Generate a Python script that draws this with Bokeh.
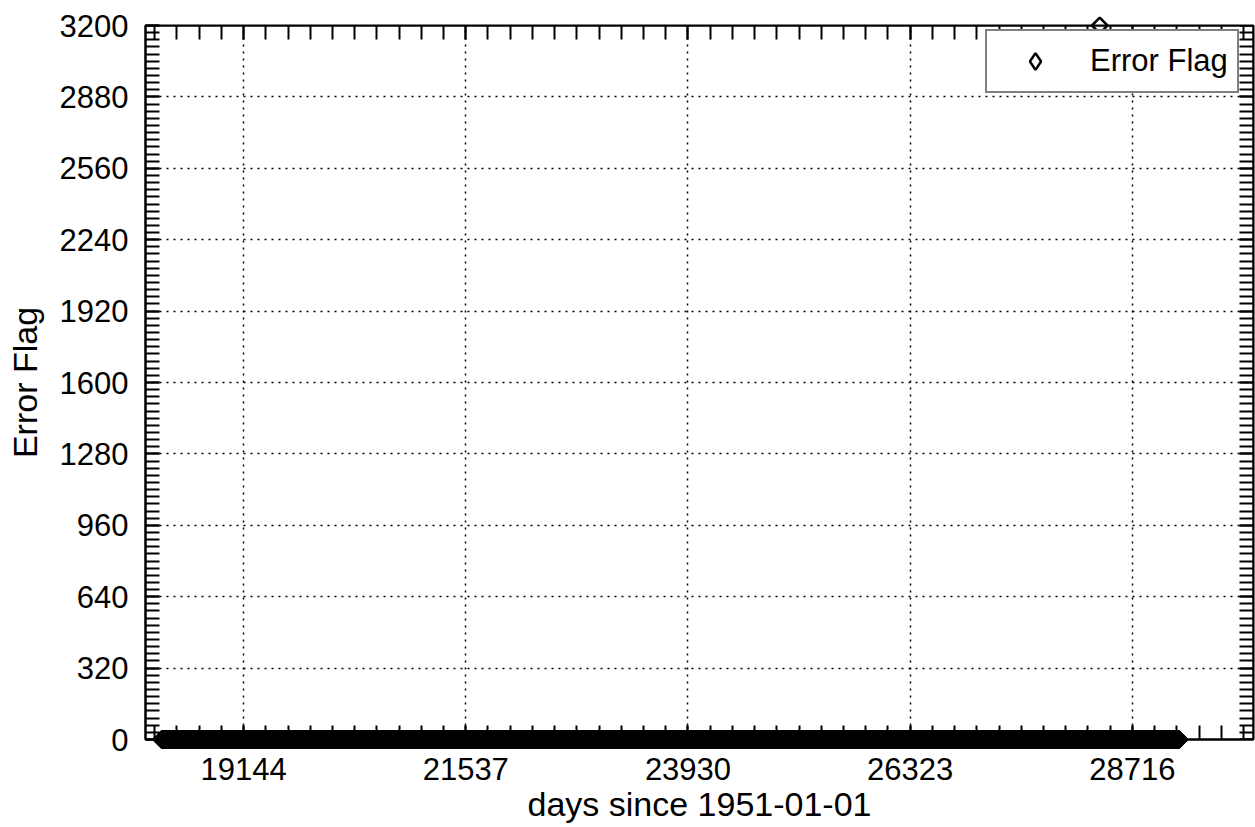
from bokeh.plotting import figure
from bokeh.models import (Range1d, FixedTicker, LinearAxis, Legend, LegendItem,
                          ColumnDataSource)
from bokeh.embed import file_html
from bokeh.resources import INLINE
import math

# ---- data ----
first_day = 18262          # first daily record, days since 1951-01-01
last_day = 29219           # last daily record
flagged_day = 28364        # the single flagged record
flagged_value = 3200
days = list(range(first_day, last_day + 1))
flags = [0] * len(days)
flags[days.index(flagged_day)] = flagged_value

x_major_ticks = [19144, 21537, 23930, 26323, 28716]
y_major_ticks = [0, 320, 640, 960, 1280, 1600, 1920, 2240, 2560, 2880, 3200]
x_limits = (18088, 30020)
y_limits = (0, 3200)
series_name = "Error Flag"
x_label = "days since 1951-01-01"
y_label = "Error Flag"

FONT = "Liberation Sans"

xstep = (x_major_ticks[1] - x_major_ticks[0]) / 10.0
x_minor = [x_major_ticks[0] + k * xstep for k in range(-10, 60)]
x_minor = [v for v in x_minor if x_limits[0] <= v <= x_limits[1]]
ystep = (y_major_ticks[1] - y_major_ticks[0]) / 10.0
y_minor = [y_limits[0] + k * ystep for k in range(0, 101)]

xticker = FixedTicker(ticks=x_major_ticks, minor_ticks=x_minor)
yticker = FixedTicker(ticks=y_major_ticks, minor_ticks=y_minor)

p = figure(width=1255, height=827, output_backend="svg", toolbar_location=None,
           title=None,
           x_range=Range1d(*x_limits), y_range=Range1d(*y_limits),
           x_axis_label=x_label, y_axis_label=y_label,
           min_border_left=145, min_border_right=2, min_border_top=25,
           min_border_bottom=88)
p.background_fill_color = "white"
p.border_fill_color = "white"
p.outline_line_color = "black"
p.outline_line_width = 2

def style_axis(ax, ticker, labels=True):
    ax.ticker = ticker
    ax.axis_line_width = 2
    ax.axis_line_color = "black"
    ax.major_tick_in = 14
    ax.major_tick_out = 0
    ax.minor_tick_in = 14
    ax.minor_tick_out = 0
    ax.major_tick_line_width = 2
    ax.minor_tick_line_width = 2
    ax.major_tick_line_color = "black"
    ax.minor_tick_line_color = "black"
    if labels:
        ax.major_label_text_font = FONT
        ax.major_label_text_font_size = "31px"
        ax.major_label_text_color = "black"
        ax.axis_label_text_font = FONT
        ax.axis_label_text_font_size = "34px"
        ax.axis_label_text_font_style = "normal"
        ax.axis_label_text_color = "black"
    else:
        ax.major_label_text_font_size = "1px"
        ax.major_label_text_color = None
        ax.major_label_standoff = 0
        ax.axis_label_standoff = 0

xa = p.xaxis[0]
ya = p.yaxis[0]
style_axis(xa, xticker)
style_axis(ya, yticker)
xa.major_label_standoff = 18
xa.axis_label_standoff = 2
ya.major_label_standoff = 17
ya.axis_label_standoff = 13

# mirrored tick frames on top and right, pinned to the range ends (no layout space)
top_ax = LinearAxis(fixed_location=y_limits[1])
right_ax = LinearAxis(fixed_location=x_limits[1])
style_axis(top_ax, xticker, labels=False)
style_axis(right_ax, yticker, labels=False)
p.add_layout(top_ax, "above")
p.add_layout(right_ax, "right")

p.xgrid.ticker = xticker
p.ygrid.ticker = yticker
for g in (p.xgrid[0], p.ygrid[0]):
    g.grid_line_color = "black"
    g.grid_line_dash = "2 5"
    g.grid_line_width = 1.5

src = ColumnDataSource(dict(x=days, y=flags))
r = p.scatter("x", "y", source=src, marker="square", size=11, angle=math.pi / 4,
              fill_color=None, line_color="black", line_width=2.5,
              level="annotation")

# legend swatch: hidden diamond renderer on the same data
# (legend markers are drawn unrotated, so a rotated square would show as a square)
key = p.scatter("x", "y", source=src, marker="diamond", size=11,
                fill_color=None, line_color="black", line_width=2.5,
                visible=False)

legend = Legend(items=[LegendItem(label=series_name, renderers=[key])],
                location=(840, 646), margin=0, padding=9, spacing=0,
                glyph_width=78, glyph_height=42, label_height=34,
                label_standoff=16,
                label_text_font=FONT, label_text_font_size="31px",
                label_text_color="black",
                border_line_color="black", border_line_width=2,
                background_fill_color="white", background_fill_alpha=1.0)
p.add_layout(legend)

open("out.html", "w").write(file_html(p, INLINE))
